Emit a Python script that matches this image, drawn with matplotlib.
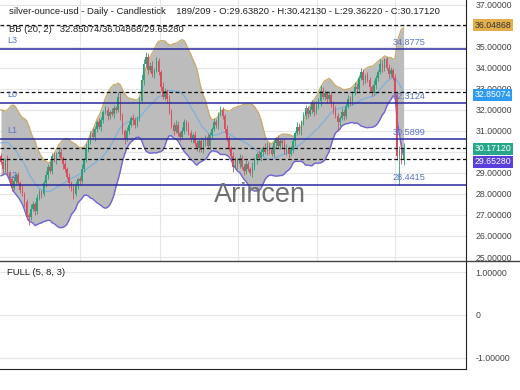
import numpy as np
import pandas as pd
import matplotlib
matplotlib.use("Agg")
import matplotlib.pyplot as plt
from matplotlib.lines import Line2D

plt.rcParams['font.family'] = ['Liberation Sans', 'DejaVu Sans']

# closes before the visible window (needed for the 20-day bands)
pre_closes = [29.0, 29.2, 29.5, 29.9, 30.4, 30.8, 31.2, 31.6, 31.5, 31.1,
              30.7, 31.0, 31.4, 31.2, 30.6, 30.1, 30.4, 29.9, 29.6]

first_open = 29.8
closes = [
    29.5, 29.2, 29.6, 29.0, 28.7, 28.3, 28.6, 28.9, 28.5, 28.2,
    28.0, 27.6, 27.0, 26.9, 27.3, 27.5, 27.2, 27.8, 28.1, 28.0,
    28.5, 28.9, 29.3, 29.1, 29.8, 29.6, 29.9, 30.0, 29.7, 29.4,
    29.2, 28.8, 28.5, 28.3, 28.0, 28.4, 28.7, 28.6, 29.2, 29.6,
    30.2, 30.5, 30.9, 30.7, 31.1, 31.4, 31.2, 31.5, 31.9, 32.0,
    31.7, 31.9, 31.8, 32.1, 32.0, 32.6, 31.7, 31.0, 30.6, 31.0,
    31.3, 31.6, 31.5, 31.3, 31.6, 32.4, 33.4, 34.2, 34.5, 33.9,
    34.1, 33.7, 33.9, 34.3, 33.8, 33.1, 32.6, 32.9, 32.5, 31.9,
    31.3, 31.0, 31.3, 30.9, 30.7, 31.0, 31.4, 31.2, 30.9, 30.6,
    30.8, 30.4, 30.2, 30.5, 30.1, 30.5, 30.7, 30.3, 30.8, 31.1,
    31.4, 31.3, 31.8, 32.0, 31.7, 31.1, 30.6, 30.2, 29.8, 29.3,
    29.6, 29.4, 29.7, 29.3, 29.1, 29.4, 29.2, 29.0, 29.3, 29.6,
    29.9, 29.7, 30.0, 30.2, 30.0, 30.3, 30.1, 29.9, 30.4, 30.6,
    30.3, 30.5, 30.4, 30.0, 30.2, 29.9, 30.1, 30.5, 30.9, 31.2,
    31.0, 31.4, 31.7, 32.1, 31.8, 32.0, 32.3, 31.9, 32.2, 32.4,
    32.9, 32.6, 32.8, 32.5, 32.7, 32.3, 32.0, 31.7, 31.4, 31.6,
    31.9, 31.7, 32.2, 32.5, 32.4, 32.8, 33.1, 33.0, 33.5, 33.8,
    33.4, 33.6, 33.4, 33.1, 32.8, 33.2, 33.5, 33.8, 34.2, 34.0,
    34.4, 34.0, 33.7, 33.9, 33.5, 32.7, 29.8, 30.1, 29.638, 30.1712,
]
wick_hi = [
    .15, .2, .1, .25, .1, .15, .2, .1, .15, .1,
    .2, .1, .15, .1, .2, .15, .1, .2, .15, .1,
    .15, .2, .1, .25, .15, .2, .1, .15, .2, .1,
    .15, .1, .2, .1, .15, .2, .1, .15, .2, .1,
    .2, .15, .1, .25, .15, .1, .2, .15, .1, .2,
    .15, .1, .2, .15, .1, .25, .2, .15, .1, .2,
    .15, .1, .2, .15, .1, .2, .3, .2, .25, .2,
    .15, .2, .1, .2, .15, .1, .2, .15, .1, .2,
    .15, .1, .2, .15, .1, .2, .15, .1, .2, .15,
    .1, .2, .15, .1, .2, .15, .1, .2, .15, .1,
    .2, .15, .1, .2, .15, .1, .2, .15, .1, .2,
    .15, .1, .2, .15, .1, .2, .15, .1, .2, .15,
    .1, .2, .15, .1, .2, .15, .1, .2, .15, .1,
    .2, .15, .1, .2, .15, .1, .2, .15, .1, .2,
    .15, .1, .2, .15, .1, .2, .15, .1, .2, .15,
    .3, .2, .15, .1, .2, .15, .1, .2, .15, .1,
    .2, .15, .1, .2, .15, .1, .2, .15, .1, .2,
    .15, .1, .2, .15, .1, .2, .15, .1, .2, .15,
    .05, .1, .2, .15, .1, .2, .1, .2, .35, .25,
]
wick_lo = [
    .1, .2, .15, .1, .25, .15, .1, .2, .1, .15,
    .1, .2, .25, .4, .15, .1, .2, .15, .1, .2,
    .1, .15, .2, .1, .15, .1, .2, .15, .1, .2,
    .15, .1, .2, .15, .25, .1, .15, .2, .1, .15,
    .1, .2, .15, .1, .2, .15, .1, .2, .15, .1,
    .2, .15, .1, .2, .15, .1, .2, .15, .25, .1,
    .15, .1, .2, .15, .1, .15, .1, .2, .15, .2,
    .1, .15, .2, .1, .15, .2, .1, .15, .2, .1,
    .15, .2, .1, .15, .2, .1, .15, .2, .1, .15,
    .2, .1, .15, .2, .1, .15, .2, .1, .15, .2,
    .1, .15, .2, .1, .15, .2, .1, .15, .2, .25,
    .1, .2, .15, .1, .2, .15, .1, .1, .2, .15,
    .2, .1, .15, .2, .1, .15, .2, .1, .15, .2,
    .1, .15, .2, .1, .15, .2, .1, .15, .2, .1,
    .15, .2, .1, .15, .2, .1, .15, .2, .1, .15,
    .2, .1, .15, .2, .1, .15, .2, .1, .4, .15,
    .1, .2, .15, .1, .2, .15, .1, .2, .15, .1,
    .2, .15, .1, .2, .15, .1, .2, .15, .1, .2,
    .15, .1, .2, .15, .1, .2, .2, 1.36, .2, .276,
]

level_names = ["L3", "L0", "L1", "L2"]
level_values = [34.8775, 32.3124, 30.5899, 28.4415]

bb_mid, bb_up, bb_lo = 32.85074, 36.04868, 29.65280
last_o, last_h, last_l, last_c = 29.63820, 30.42130, 29.36220, 30.17120
# 30 and 36 sit under the price tags, as on the reference
price_ticks = [25, 26, 27, 28, 29, 31, 32, 33, 34, 35, 37]
grid_ticks = list(range(25, 38))
grid_x = [37.1, 74.6, 111.3, 148.4, 185.0]

c = np.array(closes)
o = np.r_[first_open, c[:-1]]
hi = np.maximum(o, c) + np.array(wick_hi)
lo = np.minimum(o, c) - np.array(wick_lo)
x = np.arange(len(c))

allc = pd.Series(pre_closes + closes)
n0 = len(pre_closes)
mid = allc.rolling(20).mean().to_numpy()[n0:]
sd = allc.rolling(20).std(ddof=0).to_numpy()[n0:]
up = mid + 2 * sd
dn = mid - 2 * sd

fig = plt.figure(figsize=(5.2, 3.9), dpi=100)
ax = fig.add_axes([0, 129 / 390, 466 / 520, 261 / 390])
ax2 = fig.add_axes([0, 21 / 390, 466 / 520, 108 / 390])

# bollinger
ax.fill_between(x, dn, up, color='#bcbcbc', lw=0, zorder=1)
ax.plot(x, up, color='#c8ad70', lw=1, zorder=2)
ax.plot(x, dn, color='#6f66d4', lw=1, zorder=2)
ax.plot(x, mid, color='#7fb0dc', lw=0.9, zorder=2)

# candles
upc = c >= o
cols = np.where(upc, '#26a17b', '#d64f60')
body = np.where(np.abs(c - o) < 0.03, 0.03, c - o)
ax.vlines(x, lo, hi, colors=cols, lw=0.6, zorder=3)
ax.bar(x, body, bottom=o, width=0.7, color=cols, lw=0, zorder=3)

# horizontal levels
for v in [bb_up, bb_mid, last_c, bb_lo]:
    ax.axhline(v, color='#111111', lw=0.9, ls=(0, (3, 2)), zorder=4)
for name, v in zip(level_names, level_values):
    ax.axhline(v, color='#2a2a9c', lw=1.1, zorder=4)
    ax.text(3, v + 0.2, name, color='#5b73c9', fontsize=6.5, va='bottom', ha='left', zorder=5)
    ax.text(183.8, v + 0.12, '%.4f' % v, color='#5b73c9', fontsize=6.6, va='bottom', ha='left', zorder=5)

ax.set_xlim(-0.47, 218.3)
ax.set_ylim(24.81, 37.22)
ax.set_yticks(grid_ticks, minor=True)
ax.set_yticks(price_ticks)
ax.set_yticklabels(['%.5f' % t for t in price_ticks])
ax.yaxis.tick_right()
ax.tick_params(axis='y', which='both', length=0, pad=7, labelsize=6.3, labelcolor='#444444')
ax.set_xticks(grid_x)
ax.tick_params(axis='x', length=0, labelbottom=False)
ax.grid(True, which='both', color='#e6e6e6', lw=0.8, zorder=0)
ax.set_axisbelow(True)
for s in ['top', 'left', 'bottom']:
    ax.spines[s].set_visible(False)
ax.spines['right'].set_color('#222222')

# price tags on the axis
tags = [(bb_up, 36.02, '#e3ae4c', '#333333'),
        (bb_mid, 32.72, '#2f9bf0', 'white'),
        (last_c, 30.15, '#26a68a', 'white'),
        (bb_lo, 29.52, '#5a3fdc', 'white')]
for v, ypos, bg, fg in tags:
    ax.text(1.018, ypos, '%.5f' % v, transform=ax.get_yaxis_transform(),
            fontsize=6.3, color=fg, ha='left', va='center', zorder=10, clip_on=False,
            bbox=dict(boxstyle='square,pad=0.18', fc=bg, ec='none'))

# headers
fig.text(9 / 520, 1 - 12 / 390,
         'silver-ounce-usd - Daily - Candlestick    189/209 - O:%.5f - H:%.5f - L:%.5f - C:%.5f'
         % (last_o, last_h, last_l, last_c),
         fontsize=6.8, color='#222222', va='center', ha='left')
fig.text(9 / 520, 1 - 29 / 390, 'BB (20, 2)   %.5f/%.5f/%.5f' % (bb_mid, bb_up, bb_lo),
         fontsize=6.8, color='#222222', va='center', ha='left')

fig.text(260 / 520, 1 - 202 / 390, 'Arincen', fontsize=19.5, color='#707070',
         ha='center', va='baseline', zorder=20)

# lower panel
ax2.set_xlim(-0.47, 218.3)
ax2.set_ylim(-1.256, 1.256)
ax2.set_yticks([1, 0, -1])
ax2.set_yticklabels(['1.00000', '0', '-1.00000'])
ax2.yaxis.tick_right()
ax2.tick_params(axis='y', length=0, pad=7, labelsize=6.3, labelcolor='#444444')
ax2.set_xticks([])
ax2.grid(True, axis='y', color='#e6e6e6', lw=0.8)
ax2.spines['top'].set_visible(False)
ax2.spines['left'].set_visible(False)
ax2.spines['right'].set_color('#222222')
ax2.spines['bottom'].set_color('#222222')
ax2.text(3, 1.0, 'FULL (5, 8, 3)', fontsize=6.8, color='#222222', va='center', ha='left')

fig.add_artist(Line2D([0, 1], [1 - 261 / 390] * 2, color='#444444', lw=1))

fig.savefig('out.png', dpi=100)
